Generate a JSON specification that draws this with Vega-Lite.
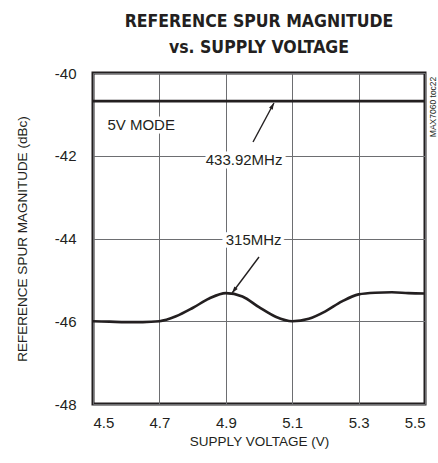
{
  "$schema": "https://vega.github.io/schema/vega-lite/v6.json",
  "width": 332,
  "height": 331,
  "autosize": "none",
  "padding": {"left": 93, "top": 73, "right": 13, "bottom": 59},
  "background": "white",
  "title": {
    "text": ["REFERENCE SPUR MAGNITUDE", "vs. SUPPLY VOLTAGE"],
    "font": "DejaVu Sans Condensed",
    "fontSize": 17.5,
    "fontWeight": "bold",
    "color": "#231f20",
    "lineHeight": 26,
    "anchor": "middle",
    "offset": 10
  },
  "config": {
    "view": {"stroke": "#231f20", "strokeWidth": 3},
    "axis": {
      "labelFont": "Liberation Sans",
      "labelFontSize": 15,
      "labelColor": "#231f20",
      "titleFont": "Liberation Sans",
      "titleFontSize": 13.5,
      "titleFontWeight": "normal",
      "titleColor": "#231f20",
      "domain": false,
      "ticks": false,
      "grid": true,
      "gridColor": "#6d6e71",
      "gridWidth": 1,
      "gridOpacity": 1
    }
  },
  "layer": [
    {
      "data": {
        "values": [
          {"series": "433.92MHz", "v": 4.5, "dbc": -40.68},
          {"series": "433.92MHz", "v": 5.5, "dbc": -40.68},
          {"series": "315MHz", "v": 4.5, "dbc": -46.0},
          {"series": "315MHz", "v": 4.55, "dbc": -46.01},
          {"series": "315MHz", "v": 4.6, "dbc": -46.02},
          {"series": "315MHz", "v": 4.65, "dbc": -46.02},
          {"series": "315MHz", "v": 4.7, "dbc": -46.0},
          {"series": "315MHz", "v": 4.75, "dbc": -45.88},
          {"series": "315MHz", "v": 4.8, "dbc": -45.68},
          {"series": "315MHz", "v": 4.85, "dbc": -45.45},
          {"series": "315MHz", "v": 4.9, "dbc": -45.32},
          {"series": "315MHz", "v": 4.95, "dbc": -45.4},
          {"series": "315MHz", "v": 5.0, "dbc": -45.66},
          {"series": "315MHz", "v": 5.05, "dbc": -45.89},
          {"series": "315MHz", "v": 5.1, "dbc": -46.0},
          {"series": "315MHz", "v": 5.15, "dbc": -45.94},
          {"series": "315MHz", "v": 5.2, "dbc": -45.76},
          {"series": "315MHz", "v": 5.25, "dbc": -45.52},
          {"series": "315MHz", "v": 5.3, "dbc": -45.35},
          {"series": "315MHz", "v": 5.35, "dbc": -45.31},
          {"series": "315MHz", "v": 5.4, "dbc": -45.3},
          {"series": "315MHz", "v": 5.45, "dbc": -45.32},
          {"series": "315MHz", "v": 5.5, "dbc": -45.33}
        ]
      },
      "mark": {"type": "line", "color": "#231f20", "strokeWidth": 2.6, "interpolate": "monotone"},
      "encoding": {
        "x": {
          "field": "v", "type": "quantitative",
          "scale": {"domain": [4.5, 5.5], "nice": false},
          "axis": {"values": [4.5, 4.7, 4.9, 5.1, 5.3, 5.5], "format": ".1f", "labelPadding": 11, "title": "SUPPLY VOLTAGE (V)", "titlePadding": 4}
        },
        "y": {
          "field": "dbc", "type": "quantitative",
          "scale": {"domain": [-48, -40], "nice": false, "zero": false},
          "axis": {"values": [-48, -46, -44, -42, -40], "labelExpr": "'' + datum.value", "labelPadding": 17, "title": "REFERENCE SPUR MAGNITUDE (dBc)", "titlePadding": 25}
        },
        "detail": {"field": "series"}
      }
    },
    {
      "data": {
        "values": [
          {"label": "433.92MHz", "x0": 4.982, "y0": -41.668, "x1": 5.045, "y1": -40.725},
          {"label": "315MHz", "x0": 5.0, "y0": -44.447, "x1": 4.919, "y1": -45.317}
        ]
      },
      "mark": {"type": "rule", "color": "#231f20", "strokeWidth": 1.4},
      "encoding": {
        "x": {"field": "x0", "type": "quantitative"},
        "y": {"field": "y0", "type": "quantitative"},
        "x2": {"field": "x1"},
        "y2": {"field": "y1"}
      }
    },
    {
      "data": {"values": [{"label": "433.92MHz", "x1": 5.045, "y1": -40.725}]},
      "mark": {"type": "point", "shape": "M0,0L-0.32,1L0.32,1Z", "size": 170, "filled": true, "opacity": 1, "color": "#231f20", "angle": 28},
      "encoding": {
        "x": {"field": "x1", "type": "quantitative"},
        "y": {"field": "y1", "type": "quantitative"}
      }
    },
    {
      "data": {"values": [{"label": "315MHz", "x1": 4.919, "y1": -45.317}]},
      "mark": {"type": "point", "shape": "M0,0L-0.32,1L0.32,1Z", "size": 170, "filled": true, "opacity": 1, "color": "#231f20", "angle": 217},
      "encoding": {
        "x": {"field": "x1", "type": "quantitative"},
        "y": {"field": "y1", "type": "quantitative"}
      }
    },
    {
      "data": {
        "values": [
          {"text": "5V MODE", "x": 4.645, "y": -41.26},
          {"text": "433.92MHz", "x": 4.955, "y": -42.1},
          {"text": "315MHz", "x": 4.984, "y": -44.04}
        ]
      },
      "layer": [
        {
          "mark": {"type": "text", "font": "Liberation Sans", "fontSize": 15, "color": "white", "stroke": "white", "strokeWidth": 7, "align": "center", "baseline": "middle"},
          "encoding": {
            "x": {"field": "x", "type": "quantitative"},
            "y": {"field": "y", "type": "quantitative"},
            "text": {"field": "text"}
          }
        },
        {
          "mark": {"type": "text", "font": "Liberation Sans", "fontSize": 15, "color": "#231f20", "align": "center", "baseline": "middle"},
          "encoding": {
            "x": {"field": "x", "type": "quantitative"},
            "y": {"field": "y", "type": "quantitative"},
            "text": {"field": "text"}
          }
        }
      ]
    },
    {
      "data": {"values": [{"text": "MAX7060 toc22", "x": 5.524, "y": -40.82}]},
      "mark": {"type": "text", "font": "Liberation Sans", "fontSize": 8.5, "color": "#231f20", "angle": 270, "align": "center", "baseline": "middle"},
      "encoding": {
        "x": {"field": "x", "type": "quantitative"},
        "y": {"field": "y", "type": "quantitative"},
        "text": {"field": "text"}
      }
    }
  ]
}
